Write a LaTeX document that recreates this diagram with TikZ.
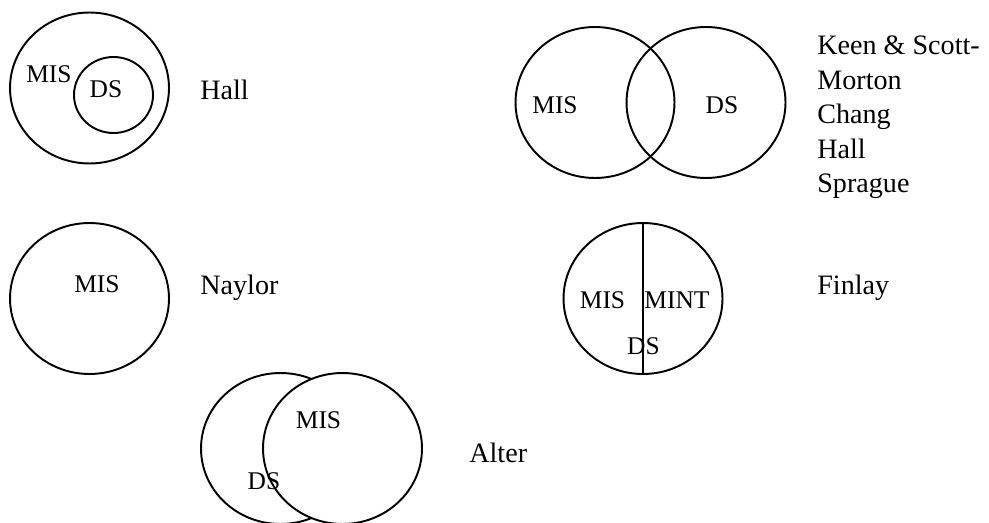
\documentclass[tikz,border=0pt]{standalone}
\usepackage{fontspec}
\setmainfont{Liberation Serif}
\usetikzlibrary{shapes.geometric}

\begin{document}
\begin{tikzpicture}[x=0.02cm, y=-0.02cm,
        set/.style={ellipse, draw, line width=1.1pt, minimum width=3.18cm, minimum height=3.02cm, inner sep=0pt},
        subset/.style={ellipse, draw, line width=1.1pt, minimum width=1.58cm, minimum height=1.52cm, inner sep=0pt},
        lbl/.style={inner sep=0pt, font=\fontsize{14.5}{17}\selectfont},
        author/.style={inner sep=0pt, anchor=base west, align=left, font=\fontsize{16}{19.7}\selectfont},
    ]
        \useasboundingbox (0,0) rectangle (989,523);

        % Circles
        \node[set] (hallout) at (89.5, 88) {};
        \node[subset] (hallin) at (113.5, 95) {};
        \node[set] (kmis) at (595, 102.5) {};
        \node[set] (kds) at (706, 102.5) {};
        \node[set] (naylor) at (89.5, 298.5) {};
        \node[set] (finlay) at (643, 298.5) {};
        \node[set] (altds) at (280.5, 448.5) {};
        \node[set, fill=white] (altmis) at (342.5, 448.5) {};
        \draw[line width=1.1pt] (finlay.north) -- (finlay.south);

        % Labels
        \node[lbl] (hallmis) at (49, 74) {MIS};
        \node[lbl] (hallds) at (106, 89) {DS};
        \node[lbl] (kmislbl) at (555, 105) {MIS};
        \node[lbl] (kdslbl) at (722, 105) {DS};
        \node[lbl] (naymis) at (97, 284.5) {MIS};
        \node[lbl] (finmis) at (602.5, 300) {MIS};
        \node[lbl] (finmint) at (677, 300) {MINT};
        \node[lbl] (finds) at (643.5, 346) {DS};
        \node[lbl] (altmislbl) at (318.5, 420) {MIS};
        \node[lbl] (altdslbl) at (264, 481) {DS};

        % Authors
        \node[author] (hallname) at (200, 100) {Hall};
        \node[author] (kname) at (817, 193) {Keen \& Scott-\\Morton\\Chang\\Hall\\Sprague};
        \node[author] (nayname) at (200, 295) {Naylor};
        \node[author] (finname) at (817, 295) {Finlay};
        \node[author] (altname) at (469, 462) {Alter};
    \end{tikzpicture}
\end{document}
